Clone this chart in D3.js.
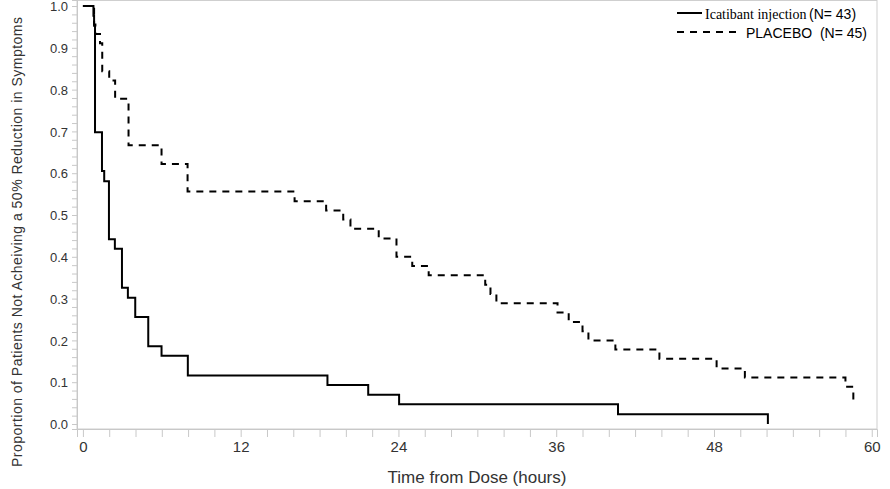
<!DOCTYPE html>
<html>
<head>
<meta charset="utf-8">
<script src="https://cdn.jsdelivr.net/npm/d3@7"></script>
<style>
  body { margin: 0; background: #fff; }
  svg { display: block; }
</style>
</head>
<body>
<svg id="chart" width="890" height="489"></svg>
<script>
// Kaplan-Meier steps (time in hours, proportion)
const icatibantTimes = [0, 0.8, 0.85, 0.92, 1.45, 1.62, 1.98, 2.43, 2.97, 3.42, 3.98, 4.97, 5.98, 7.98, 18.6, 21.7, 24.05, 40.7, 52.1];
const icatibantSurv  = [1.0, 0.977, 0.953, 0.698, 0.605, 0.581, 0.442, 0.419, 0.326, 0.302, 0.256, 0.186, 0.163, 0.116, 0.093, 0.070, 0.047, 0.023, 0.0];

const placeboTimes = [0, 0.85, 0.95, 1.3, 1.47, 2.0, 2.45, 3.47, 5.98, 7.96, 16.1, 18.5, 19.8, 20.35, 22.5, 23.85, 25.05, 26.3, 30.6, 31.0, 31.45, 36.1, 36.95, 38.0, 38.45, 40.5, 43.85, 48.2, 50.35, 58.0, 58.6];
const placeboSurv  = [1.0, 0.956, 0.933, 0.911, 0.844, 0.822, 0.778, 0.667, 0.622, 0.556, 0.533, 0.511, 0.489, 0.467, 0.444, 0.400, 0.378, 0.356, 0.333, 0.311, 0.289, 0.267, 0.244, 0.222, 0.200, 0.178, 0.156, 0.133, 0.111, 0.089, 0.056];

const xTicks = d3.range(0, 61, 2);
const xLabels = [0, 12, 24, 36, 48, 60];
const yTicks = d3.range(0, 51).map(i => i * 0.02);
const yLabels = [0, 0.1, 0.2, 0.3, 0.4, 0.5, 0.6, 0.7, 0.8, 0.9, 1.0];

const legendNames = ["Icatibant injection", "PLACEBO"];
const legendCounts = ["(N= 43)", "(N= 45)"];

const svg = d3.select("#chart");
const plotLeft = 77, plotRight = 877, plotTop = 0.5, plotBottom = 429;

const x = d3.scaleLinear().domain([-0.45, 60.4]).range([plotLeft, plotRight]);
const y = d3.scaleLinear().domain([-0.012, 1.0144]).range([plotBottom, 0]);

const sans = '"Liberation Sans", Arial, sans-serif';
const narrow = '"Liberation Sans Narrow", "Arial Narrow", sans-serif';

// frame
svg.append("rect")
  .attr("x", plotLeft).attr("y", plotTop)
  .attr("width", plotRight - plotLeft).attr("height", plotBottom - plotTop)
  .attr("fill", "none").attr("stroke", "#cfcfcf").attr("stroke-width", 1);

// axes
const xAxis = d3.axisBottom(x)
  .tickValues(xTicks)
  .tickSize(8)
  .tickPadding(4)
  .tickFormat(d => xLabels.includes(d) ? d : "");

const gx = svg.append("g")
  .attr("transform", `translate(0,${plotBottom})`)
  .call(xAxis);

const yAxis = d3.axisLeft(y)
  .tickValues(yTicks)
  .tickSize(5)
  .tickPadding(4)
  .tickFormat(d => yLabels.some(v => Math.abs(v - d) < 1e-9) ? d3.format(".1f")(d) : "");

const gy = svg.append("g")
  .attr("transform", `translate(${plotLeft},0)`)
  .call(yAxis);

[gx, gy].forEach(g => {
  g.select(".domain").attr("stroke", "#c8c8c8");
  g.selectAll(".tick line").attr("stroke", "#c8c8c8");
  g.selectAll(".tick text").attr("fill", "#333");
});
gx.selectAll(".tick text")
  .style("font-family", narrow)
  .style("font-size", "15px");
gy.selectAll(".tick text")
  .attr("dy", "0.36em")
  .style("font-family", sans)
  .style("font-size", "13px");

// axis titles
svg.append("text")
  .attr("x", (plotLeft + plotRight) / 2).attr("y", 483)
  .attr("text-anchor", "middle")
  .attr("fill", "#333")
  .style("font-family", narrow)
  .style("font-size", "17px")
  .text("Time from Dose (hours)");

svg.append("text")
  .attr("transform", "translate(22,242) rotate(-90)")
  .attr("text-anchor", "middle")
  .attr("fill", "#333")
  .attr("textLength", 450)
  .attr("lengthAdjust", "spacing")
  .style("font-family", sans)
  .style("font-size", "14px")
  .text("Proportion of Patients Not Acheiving a 50% Reduction in Symptoms");

// curves
const line = d3.line()
  .x(d => x(d[0]))
  .y(d => y(d[1]))
  .curve(d3.curveStepAfter);

svg.append("path")
  .datum(icatibantTimes.map((t, i) => [t, icatibantSurv[i]]))
  .attr("d", line)
  .attr("fill", "none")
  .attr("stroke", "#000")
  .attr("stroke-width", 2);

svg.append("path")
  .datum(placeboTimes.map((t, i) => [t, placeboSurv[i]]))
  .attr("d", line)
  .attr("fill", "none")
  .attr("stroke", "#000")
  .attr("stroke-width", 2)
  .attr("stroke-dasharray", "7,6");

// legend
const legend = svg.append("g");
legend.append("line")
  .attr("x1", 677).attr("x2", 702).attr("y1", 13).attr("y2", 13)
  .attr("stroke", "#000").attr("stroke-width", 2);
legend.append("text")
  .attr("x", 705).attr("y", 19)
  .style("font-family", '"Liberation Serif", "Times New Roman", serif')
  .style("font-size", "14px")
  .text(legendNames[0]);
legend.append("text")
  .attr("x", 809).attr("y", 19)
  .style("font-family", sans)
  .style("font-size", "14px")
  .text(legendCounts[0]);

legend.append("line")
  .attr("x1", 677).attr("x2", 738).attr("y1", 32).attr("y2", 32)
  .attr("stroke", "#000").attr("stroke-width", 2)
  .attr("stroke-dasharray", "7,6");
legend.append("text")
  .attr("x", 746).attr("y", 38)
  .style("white-space", "pre")
  .style("font-family", sans)
  .style("font-size", "14px")
  .text(legendNames[1] + "  " + legendCounts[1]);
</script>
</body>
</html>
